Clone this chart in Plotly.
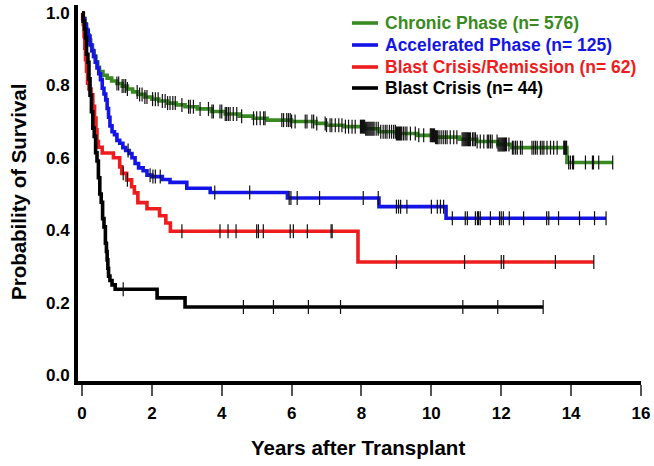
import numpy as np
import plotly.graph_objects as go

# ---------------- data ----------------
series_names = ["Chronic Phase (n= 576)", "Accelerated Phase (n= 125)",
                "Blast Crisis/Remission (n= 62)", "Blast Crisis (n= 44)"]

green_t = [0, 0.04, 0.08, 0.12, 0.16, 0.20, 0.25, 0.30, 0.35, 0.40, 0.45, 0.50, 0.60, 0.72, 0.85,
           1.0, 1.15, 1.3, 1.45, 1.6, 1.8, 2.0, 2.2, 2.45, 2.7, 2.95, 3.3, 3.7, 4.1, 4.5, 4.9, 5.3,
           6.0, 6.7, 7.0, 7.5, 8.1, 8.5, 9.0, 9.6, 10.1, 10.8, 11.3, 11.9, 12.3, 13.88]
green_s = [1.0, 0.985, 0.97, 0.955, 0.94, 0.925, 0.91, 0.895, 0.88, 0.865, 0.85, 0.838, 0.828, 0.82,
           0.812, 0.805, 0.798, 0.79, 0.782, 0.775, 0.768, 0.762, 0.757, 0.751, 0.746, 0.741, 0.735,
           0.728, 0.721, 0.715, 0.709, 0.704, 0.700, 0.695, 0.690, 0.686, 0.680, 0.672, 0.667, 0.662,
           0.657, 0.651, 0.645, 0.637, 0.628, 0.587]
green_end = 15.2
green_cens = [1.0, 1.05, 1.15, 1.2, 1.25, 1.3, 1.58, 1.65, 1.72, 1.8, 1.86, 2.02, 2.1, 2.18, 2.3, 2.38,
              2.45, 2.52, 2.6, 2.67, 2.86, 3.05, 3.1, 3.19, 3.38, 3.62, 3.72, 3.76, 3.95, 4.0, 4.1, 4.14,
              4.19, 4.24, 4.33, 4.43, 4.57, 4.91, 5.0, 5.1, 5.2, 5.24, 5.72, 5.77, 5.86, 5.91, 5.96, 6.0,
              6.1, 6.39, 6.44, 6.58, 6.63, 6.72, 6.96, 7.0, 7.1, 7.15, 7.25, 7.35, 7.44, 7.54, 7.63, 7.73,
              7.82, 7.97, 8.0, 8.03, 8.06, 8.09, 8.12, 8.15, 8.18, 8.21, 8.24, 8.27, 8.30, 8.33, 8.36,
              8.42, 8.48, 8.55, 8.62, 8.68, 8.73, 8.80, 8.86, 8.92, 8.97, 9.0, 9.03, 9.06, 9.09, 9.12,
              9.15, 9.2, 9.25, 9.3, 9.4, 9.54, 9.64, 9.78, 9.97, 10.0, 10.03, 10.06, 10.09, 10.12, 10.15,
              10.18, 10.22, 10.28, 10.34, 10.4, 10.45, 10.54, 10.64, 10.73, 10.88, 10.91, 10.94, 10.97,
              11.0, 11.03, 11.06, 11.09, 11.12, 11.18, 11.22, 11.26, 11.31, 11.4, 11.5, 11.6, 11.64,
              11.69, 11.74, 11.88, 11.91, 11.94, 11.97, 12.0, 12.03, 12.06, 12.09, 12.12, 12.15, 12.22,
              12.32, 12.36, 12.41, 12.46, 12.55, 12.6, 12.88, 12.93, 12.98, 13.03, 13.12, 13.17, 13.22,
              13.31, 13.41, 13.5, 13.6, 13.79, 13.81, 13.83, 13.85, 13.87, 13.93, 13.98, 14.04, 14.07,
              14.41, 14.61, 14.64, 14.79, 15.19]

blue_t = [0, 0.03, 0.08, 0.13, 0.18, 0.23, 0.28, 0.33, 0.38, 0.43, 0.48, 0.53, 0.58, 0.63, 0.68, 0.72,
          0.76, 0.80, 0.86, 0.93, 1.00, 1.08, 1.17, 1.25, 1.35, 1.43, 1.52, 1.62, 1.75, 1.86, 2.0, 2.3,
          2.52, 3.0, 3.67, 5.88, 8.5, 10.42]
blue_s = [1.0, 0.984, 0.968, 0.952, 0.936, 0.912, 0.896, 0.880, 0.864, 0.848, 0.832, 0.816, 0.792,
          0.776, 0.760, 0.736, 0.712, 0.688, 0.672, 0.664, 0.648, 0.640, 0.628, 0.620, 0.612, 0.600,
          0.584, 0.572, 0.564, 0.552, 0.548, 0.540, 0.532, 0.516, 0.504, 0.489, 0.465, 0.433]
blue_end = 15.0
blue_cens = [1.32, 1.95, 2.03, 2.1, 2.24, 3.8, 4.8, 5.93, 5.98, 6.16, 6.8, 8.05, 8.48, 9.0, 9.06, 9.12,
             9.3, 10.0, 10.17, 10.26, 10.35, 10.6, 10.97, 11.03, 11.26, 11.32, 11.35, 11.4, 11.69,
             11.95, 12.0, 12.06, 12.23, 12.64, 13.3, 13.36, 13.64, 14.24, 14.67, 15.0]

red_t = [0, 0.02, 0.04, 0.06, 0.08, 0.10, 0.13, 0.16, 0.20, 0.26, 0.31, 0.36, 0.40, 0.43, 0.47, 0.58,
         0.90, 1.08, 1.14, 1.28, 1.42, 1.50, 1.60, 1.86, 2.22, 2.40, 2.53, 7.90]
red_s = [1.0, 0.984, 0.968, 0.935, 0.903, 0.871, 0.839, 0.806, 0.790, 0.774, 0.742, 0.710, 0.677,
         0.645, 0.629, 0.613, 0.600, 0.575, 0.557, 0.539, 0.520, 0.503, 0.476, 0.459, 0.440, 0.420,
         0.397, 0.312]
red_end = 14.65
red_cens = [1.18, 1.3, 2.86, 3.95, 4.18, 4.41, 5.0, 5.05, 5.19, 5.96, 6.05, 6.45, 7.13, 7.16, 9.0,
            10.95, 12.0, 12.07, 13.55, 14.65]

black_t = [0, 0.03, 0.07, 0.10, 0.13, 0.17, 0.20, 0.23, 0.27, 0.31, 0.35, 0.39, 0.43, 0.47, 0.51,
           0.55, 0.59, 0.63, 0.67, 0.70, 0.72, 0.74, 0.76, 0.80, 0.86, 0.95, 2.15, 2.95]
black_s = [1.0, 0.977, 0.955, 0.932, 0.886, 0.864, 0.818, 0.773, 0.727, 0.682, 0.659, 0.614, 0.591,
           0.545, 0.500, 0.477, 0.432, 0.409, 0.364, 0.341, 0.318, 0.295, 0.273, 0.261, 0.249, 0.237,
           0.213, 0.188]
black_end = 13.2
black_cens = [1.18, 4.62, 5.48, 6.48, 7.4, 10.9, 11.9, 13.2]

x_ticks = [0, 2, 4, 6, 8, 10, 12, 14, 16]
y_ticks = [0.0, 0.2, 0.4, 0.6, 0.8, 1.0]
y_tick_text = ["0.0", "0.2", "0.4", "0.6", "0.8", "1.0"]

x_title = "Years after Transplant"
y_title = "Probability of Survival"

colors = ["#3a8a22", "#1414e6", "#ee1c1c", "#000000"]

# ---------------- figure ----------------
FONT = "Liberation Sans, Arial, sans-serif"
W, H = 654, 466
ML, MR, MT, MB = 78, 13, 5, 85
PW, PH = W - ML - MR, H - MT - MB

fig = go.Figure()

curves = [(green_t, green_s, green_end, green_cens),
          (blue_t, blue_s, blue_end, blue_cens),
          (red_t, red_s, red_end, red_cens),
          (black_t, black_s, black_end, black_cens)]

for (t, s, end, cens), name, col in zip(curves, series_names, colors):
    xs = list(t) + [end]
    ys = list(s) + [s[-1]]
    fig.add_trace(go.Scatter(
        x=xs, y=ys, mode="lines", line=dict(color=col, width=3.6, shape="hv"),
        name=name, showlegend=False, hoverinfo="skip"))

for (t, s, end, cens), col in zip(curves, colors):
    ta = np.array(t)
    sa = np.array(s)
    c = np.array(cens)
    idx = np.searchsorted(ta, c, side="right") - 1
    fig.add_trace(go.Scatter(
        x=c, y=sa[idx], mode="markers", showlegend=False, hoverinfo="skip",
        marker=dict(symbol="line-ns", size=10, line=dict(color="#111111", width=1.2))))


def px_to_paper_x(px):
    return (px - ML) / PW


def px_to_paper_y(py):
    return (H - MB - py) / PH


# custom legend (line sample + coloured label)
legend_rows_y = [23, 45, 67, 88]
for name, col, ry in zip(series_names, colors, legend_rows_y):
    fig.add_shape(type="line", xref="paper", yref="paper",
                  x0=px_to_paper_x(352), x1=px_to_paper_x(378),
                  y0=px_to_paper_y(ry), y1=px_to_paper_y(ry),
                  line=dict(color=col, width=3.6))
    fig.add_annotation(xref="paper", yref="paper", x=px_to_paper_x(383), y=px_to_paper_y(ry),
                       xanchor="left", yanchor="middle", showarrow=False,
                       text=f"<b>{name}</b>", font=dict(family=FONT, size=17.5, color=col))

# axis titles
fig.add_annotation(xref="paper", yref="paper", x=px_to_paper_x(358), y=px_to_paper_y(448),
                   xanchor="center", yanchor="middle", showarrow=False,
                   text=f"<b>{x_title}</b>", font=dict(family=FONT, size=20.5, color="black"))
fig.add_annotation(xref="paper", yref="paper", x=px_to_paper_x(18), y=px_to_paper_y(192),
                   xanchor="center", yanchor="middle", showarrow=False, textangle=-90,
                   text=f"<b>{y_title}</b>", font=dict(family=FONT, size=20.5, color="black"))

fig.update_layout(
    width=W, height=H,
    margin=dict(l=ML, r=MR, t=MT, b=MB, autoexpand=False),
    paper_bgcolor="white", plot_bgcolor="white",
    font=dict(family=FONT, color="black", size=17),
    showlegend=False,
    hovermode=False,
    xaxis=dict(range=[-0.114, 16.0], tickvals=x_ticks, ticktext=[f"<b>{v}</b>" for v in x_ticks],
               showgrid=False, zeroline=False, showline=True, linecolor="black", linewidth=4,
               ticks="outside", ticklen=11, tickwidth=1.5, tickcolor="#555555", automargin=False,
               tickfont=dict(family=FONT, size=17), ticklabelstandoff=3),
    yaxis=dict(range=[-0.0166, 1.022], tickvals=y_ticks, ticktext=[f"<b>{v}</b>" for v in y_tick_text],
               showgrid=False, zeroline=False, showline=True, linecolor="black", linewidth=4,
               ticks="", tickfont=dict(family=FONT, size=17), ticklabelstandoff=1, automargin=False),
)

fig.write_html("out.html", config={"displayModeBar": False},
               post_script="document.body.style.margin='0px';")
